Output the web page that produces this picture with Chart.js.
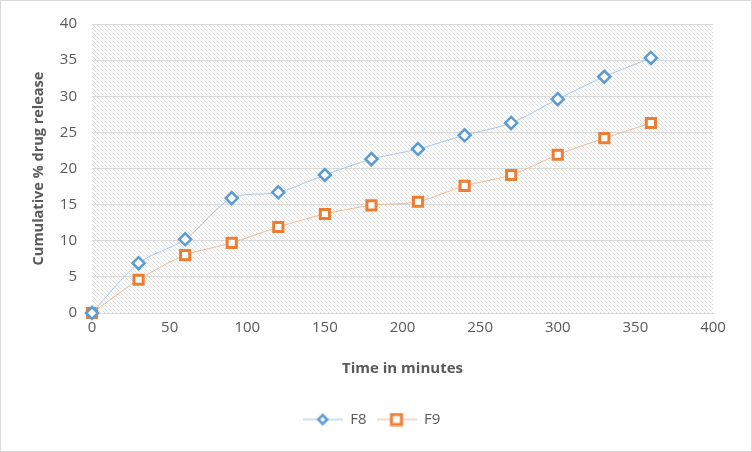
<!DOCTYPE html>
<html>
<head>
<meta charset="utf-8">
<script src="https://cdn.jsdelivr.net/npm/chart.js@4"></script>
<style>
html,body{margin:0;padding:0;background:#fff;}
#wrap{width:752px;height:452px;position:relative;}
</style>
</head>
<body>
<div id="wrap"><canvas id="c" width="752" height="452"></canvas></div>
<script>
const timeMinutes = [0, 30, 60, 90, 120, 150, 180, 210, 240, 270, 300, 330, 360];
const f8Values = [0, 6.9, 10.2, 15.9, 16.7, 19.1, 21.3, 22.7, 24.6, 26.3, 29.6, 32.7, 35.3];
const f9Values = [0, 4.6, 8.0, 9.7, 11.9, 13.7, 14.9, 15.4, 17.6, 19.1, 21.9, 24.2, 26.3];
const seriesNames = ['F8', 'F9'];

const FONT = '"Open Sans", "Noto Sans", sans-serif';
const TXT = '#595959';

function hatchPattern(ctx) {
  const p = document.createElement('canvas');
  p.width = 8; p.height = 8;
  const g = p.getContext('2d');
  g.fillStyle = '#ffffff';
  g.fillRect(0, 0, 8, 8);
  g.strokeStyle = '#e0e0e0';
  g.lineWidth = 1;
  g.beginPath();
  for (let k = -8; k <= 16; k += 4) {
    g.moveTo(k, 0);
    g.lineTo(k + 8, 8);
  }
  g.stroke();
  return ctx.createPattern(p, 'repeat');
}

function legendIcon(kind, lineColor, markColor) {
  const cv = document.createElement('canvas');
  cv.width = 40; cv.height = 14;
  const g = cv.getContext('2d');
  g.strokeStyle = lineColor; g.lineWidth = 1;
  g.beginPath(); g.moveTo(0, 7); g.lineTo(40, 7); g.stroke();
  g.fillStyle = '#fff'; g.strokeStyle = markColor;
  if (kind === 'diamond') {
    g.lineWidth = 2.5;
    g.beginPath();
    g.moveTo(20, 2.5); g.lineTo(24.5, 7); g.lineTo(20, 11.5); g.lineTo(15.5, 7); g.closePath();
    g.fill(); g.stroke();
  } else {
    g.lineWidth = 3;
    g.fillRect(15, 2, 10, 10);
    g.strokeRect(15, 2, 10, 10);
  }
  return cv;
}

const bgPlugin = {
  id: 'bg',
  beforeDraw(chart) {
    const {ctx, chartArea: a} = chart;
    ctx.save();
    ctx.fillStyle = '#fff';
    ctx.fillRect(0, 0, chart.width, chart.height);
    ctx.fillStyle = hatchPattern(ctx);
    ctx.fillRect(a.left, a.top, a.right - a.left, a.bottom - a.top);
    ctx.restore();
  },
  afterDraw(chart) {
    const {ctx} = chart;
    ctx.save();
    ctx.strokeStyle = '#d9d9d9';
    ctx.lineWidth = 1;
    ctx.strokeRect(0.5, 0.5, chart.width - 1, chart.height - 1);
    ctx.restore();
  }
};

const f8Icon = legendIcon('diamond', '#9dc3e6', '#5b9bd5');
const f9Icon = legendIcon('square', '#f4b183', '#ed7d31');

new Chart(document.getElementById('c'), {
  type: 'line',
  data: {
    datasets: [
      {
        label: seriesNames[0],
        data: timeMinutes.map((t, i) => ({x: t, y: f8Values[i]})),
        borderColor: '#a9c9ea',
        borderWidth: 1,
        backgroundColor: '#ffffff',
        pointStyle: 'rectRot',
        pointRadius: 6,
        pointBorderWidth: 2.5,
        pointBorderColor: '#5b9bd5',
        pointBackgroundColor: '#ffffff',
        tension: 0.3,
        clip: false
      },
      {
        label: seriesNames[1],
        data: timeMinutes.map((t, i) => ({x: t, y: f9Values[i]})),
        borderColor: '#f6bb92',
        borderWidth: 1,
        backgroundColor: '#ffffff',
        pointStyle: 'rect',
        pointRadius: 6.5,
        pointBorderWidth: 3,
        pointBorderColor: '#ed7d31',
        pointBackgroundColor: '#ffffff',
        tension: 0.3,
        clip: false
      }
    ]
  },
  options: {
    responsive: false,
    animation: false,
    devicePixelRatio: 1,
    layout: {padding: {left: 30, right: 39, top: 24, bottom: 15}},
    scales: {
      x: {
        type: 'linear',
        min: 0, max: 400,
        ticks: {stepSize: 50, color: TXT, font: {family: FONT, size: 15}, padding: 6},
        grid: {display: false, drawTicks: false},
        border: {display: true, color: '#d9d9d9'},
        title: {display: true, text: 'Time in minutes', color: TXT, font: {family: FONT, size: 15, weight: 'bold'}, padding: {top: 14, bottom: 24}},
        afterFit(s) { s.height = 89; }
      },
      y: {
        min: 0, max: 40,
        ticks: {stepSize: 5, color: TXT, font: {family: FONT, size: 15}, padding: 15},
        grid: {color: '#d9d9d9', drawTicks: false},
        border: {display: false},
        title: {display: true, text: 'Cumulative % drug release', color: TXT, font: {family: FONT, size: 14.5, weight: 'bold'}, padding: {top: 0, bottom: 8}},
        afterFit(s) { s.width = 62; }
      }
    },
    plugins: {
      legend: {
        position: 'bottom',
        labels: {
          usePointStyle: true,
          pointStyleWidth: 40,
          color: TXT,
          font: {family: FONT, size: 15},
          padding: 10,
          generateLabels(chart) {
            return chart.data.datasets.map((d, i) => ({
              text: d.label,
              pointStyle: i === 0 ? f8Icon : f9Icon,
              fillStyle: '#fff', strokeStyle: '#fff', lineWidth: 0,
              fontColor: TXT, hidden: false, datasetIndex: i
            }));
          }
        }
      },
      tooltip: {enabled: false}
    }
  },
  plugins: [bgPlugin]
});
</script>
</body>
</html>
